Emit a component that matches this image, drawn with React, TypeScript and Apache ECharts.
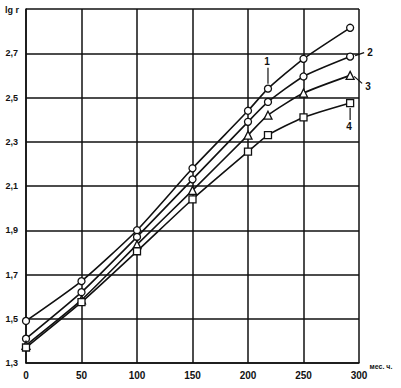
import React, { useEffect, useRef } from "react";
import * as echarts from "echarts";

const xTicks = [0, 50, 100, 150, 200, 250, 300];
const yBase = 1.3;
const xs = [0, 50, 100, 150, 200, 218, 250, 292];
const curve1 = [1.49, 1.67, 1.9, 2.18, 2.44, 2.54, 2.675, 2.815];
const curve2 = [1.41, 1.62, 1.87, 2.13, 2.39, 2.48, 2.595, 2.685];
const curve3 = [1.38, 1.585, 1.835, 2.08, 2.33, 2.42, 2.52, 2.6];
const curve4 = [1.37, 1.575, 1.805, 2.04, 2.255, 2.33, 2.41, 2.475];
const curveNames = ["1", "2", "3", "4"];
const yAxisName = "lg r";
const xAxisName = "мес. ч.";

const INK = "#111";
const FONT = "'Liberation Sans', Arial, sans-serif";

export default function App() {
  const ref = useRef<HTMLDivElement>(null);
  useEffect(() => {
    if (!ref.current) return;
    const chart = echarts.init(ref.current, undefined, { renderer: "svg" });
    const curves = [curve1, curve2, curve3, curve4];
    const symbols = ["circle", "circle", "triangle", "rect"];
    const series = curves.map((c, i) => ({
      type: "line",
      name: curveNames[i],
      data: c.map((v, k) => [xs[k], v - yBase]),
      smooth: 0.2,
      symbol: symbols[i],
      symbolSize: i === 2 ? 8 : 7,
      showAllSymbol: true,
      lineStyle: { color: INK, width: 1.6 },
      itemStyle: { color: "#fff", borderColor: INK, borderWidth: 1.3 },
      z: 3,
    }));
    chart.setOption({
      animation: false,
      backgroundColor: "#fff",
      grid: { left: 26, right: 42, top: 9, bottom: 25 },
      xAxis: {
        type: "value",
        min: 0,
        max: 300,
        interval: 50,
        axisLine: { show: true, lineStyle: { color: INK, width: 1.5 } },
        axisTick: { show: false },
        splitLine: { show: true, lineStyle: { color: INK, width: 1.5 } },
        axisLabel: {
          color: INK,
          fontSize: 10,
          fontWeight: "bold",
          fontFamily: FONT,
          margin: 7,
          formatter: (v: number) => (xTicks.includes(v) ? String(v) : ""),
        },
      },
      yAxis: {
        type: "value",
        min: 0,
        max: 1.6,
        interval: 0.2,
        axisLine: { show: true, lineStyle: { color: INK, width: 1.5 } },
        axisTick: { show: false },
        splitLine: { show: true, lineStyle: { color: INK, width: 1.5 } },
        axisLabel: {
          color: INK,
          fontSize: 9,
          fontWeight: "bold",
          fontFamily: FONT,
          margin: 8,
          formatter: (v: number) => {
            const val = v + yBase;
            if (val > 2.8) return "";
            return val.toFixed(1).replace(".", ",");
          },
        },
      },
      series,
    });

    const px = (x: number, y: number) =>
      chart.convertToPixel({ gridIndex: 0 }, [x, y - yBase]) as number[];
    const p1 = px(xs[5], curve1[5]);
    const p2 = px(xs[7], curve2[7]);
    const p3 = px(xs[7], curve3[7]);
    const p4 = px(xs[7], curve4[7]);
    const txt = (t: string, x: number, y: number, size = 10) => ({
      type: "text",
      x,
      y,
      style: {
        text: t,
        fill: INK,
        font: `bold ${size}px ${FONT}`,
        textAlign: "center",
        textVerticalAlign: "middle",
      },
      z: 10,
    });
    const ln = (x1: number, y1: number, x2: number, y2: number) => ({
      type: "line",
      shape: { x1, y1, x2, y2 },
      style: { stroke: INK, lineWidth: 1.2 },
      z: 10,
    });
    chart.setOption({
      graphic: [
        txt(yAxisName, 12, 10, 9),
        txt(xAxisName, 381, 366, 7),
        txt(curveNames[0], p1[0] - 1, p1[1] - 27),
        ln(p1[0], p1[1] - 21, p1[0], p1[1] - 5),
        txt(curveNames[1], p2[0] + 20, p2[1] - 4),
        ln(p2[0] + 5, p2[1] - 1, p2[0] + 14, p2[1] - 4),
        txt(curveNames[2], p3[0] + 18, p3[1] + 11),
        ln(p3[0] + 4, p3[1] + 1, p3[0] + 12, p3[1] + 8),
        txt(curveNames[3], p4[0] - 1, p4[1] + 23),
        ln(p4[0], p4[1] + 5, p4[0], p4[1] + 17),
      ],
    });
    return () => chart.dispose();
  }, []);
  return (
    <div
      ref={ref}
      style={{ position: "absolute", left: 0, top: 0, width: 401, height: 388, background: "#fff" }}
    />
  );
}
